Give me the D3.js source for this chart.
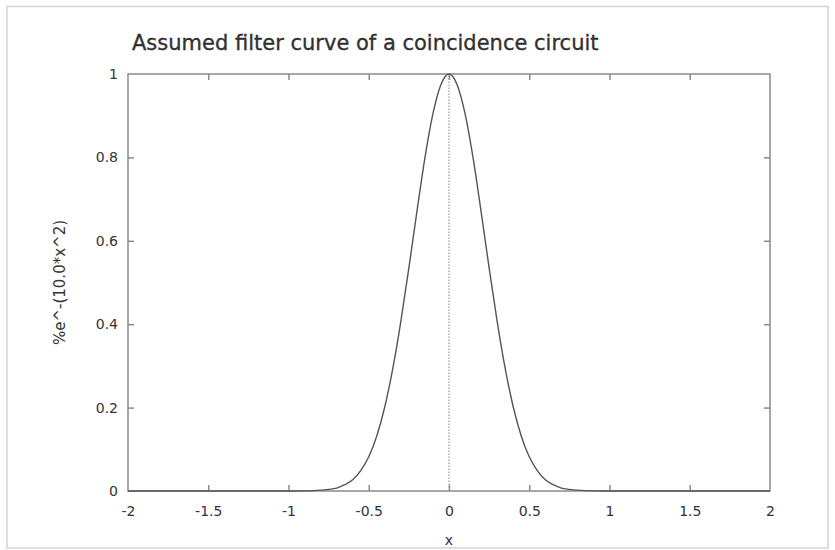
<!DOCTYPE html>
<html><head><meta charset="utf-8">
<script src="https://cdn.jsdelivr.net/npm/d3@7"></script>
<style>body{margin:0;background:#fff}svg{display:block}text{font-family:"DejaVu Sans",sans-serif;fill:#333}</style>
</head><body>
<svg id="c" width="835" height="550"></svg>
<script>
const title = "Assumed filter curve of a coincidence circuit";
const xLabel = "x";
const yLabel = "%e^-(10.0*x^2)";
const xTicks = [-2, -1.5, -1, -0.5, 0, 0.5, 1, 1.5, 2];
const yTicks = [0, 0.2, 0.4, 0.6, 0.8, 1];
const xs = [-2, -1.5, -1.0, -0.9, -0.8, -0.75, -0.7, -0.65, -0.6, -0.55, -0.5, -0.45, -0.4, -0.35, -0.3, -0.25, -0.2, -0.15, -0.1, -0.05, 0,
            0.05, 0.1, 0.15, 0.2, 0.25, 0.3, 0.35, 0.4, 0.45, 0.5, 0.55, 0.6, 0.65, 0.7, 0.75, 0.8, 0.9, 1.0, 1.5, 2];
const ys = [0, 0, 0, 0.0003, 0.002, 0.004, 0.007, 0.015, 0.027, 0.049, 0.082, 0.132, 0.202, 0.294, 0.407, 0.535, 0.670, 0.799, 0.905, 0.975, 1,
            0.975, 0.905, 0.799, 0.670, 0.535, 0.407, 0.294, 0.202, 0.132, 0.082, 0.049, 0.027, 0.015, 0.007, 0.004, 0.002, 0.0003, 0, 0, 0];

const svg = d3.select("#c");
const L = 128, R = 770, T = 74, B = 491;
const x = d3.scaleLinear().domain([-2, 2]).range([L, R]);
const y = d3.scaleLinear().domain([0, 1]).range([B, T]);

svg.append("rect").attr("x", 7).attr("y", 6.5).attr("width", 821).attr("height", 541.5)
  .attr("fill", "none").attr("stroke", "#d4d4d4").attr("stroke-width", 1.5);

const axCol = "#8a8a8a";
const tl = 6;
const gx = svg.append("g").attr("transform", `translate(0,${B})`)
  .call(d3.axisBottom(x).tickValues(xTicks).tickFormat(d => d).tickSize(-tl).tickPadding(15));
const gxt = svg.append("g").attr("transform", `translate(0,${T})`)
  .call(d3.axisTop(x).tickValues(xTicks.slice(1, -1)).tickFormat("").tickSize(-tl));
const gy = svg.append("g").attr("transform", `translate(${L},0)`)
  .call(d3.axisLeft(y).tickValues(yTicks).tickFormat(d => d).tickSize(-tl).tickPadding(10));
const gyr = svg.append("g").attr("transform", `translate(${R},0)`)
  .call(d3.axisRight(y).tickValues(yTicks.slice(1, -1)).tickFormat("").tickSize(-tl));
[gx, gxt, gy, gyr].forEach(g => {
  g.select(".domain").remove();
  g.selectAll("line").attr("stroke", axCol).attr("stroke-width", 1.5);
  g.selectAll("text").attr("font-size", 14).attr("fill", "#333").attr("font-family", "DejaVu Sans");
});
gx.selectAll("line").filter(d => d === -2 || d === 2).remove();
gy.selectAll("line").filter(d => d === 0 || d === 1).remove();

svg.append("rect").attr("x", L).attr("y", T).attr("width", R - L).attr("height", B - T)
  .attr("fill", "none").attr("stroke", axCol).attr("stroke-width", 1.5);

svg.append("line").attr("x1", x(0)).attr("x2", x(0)).attr("y1", B).attr("y2", T)
  .attr("stroke", "#999").attr("stroke-width", 1.2).attr("stroke-dasharray", "1.5,1.5");

const data = xs.map((v, i) => [v, ys[i]]);
svg.append("path").datum(data)
  .attr("d", d3.line().x(d => x(d[0])).y(d => y(d[1])).curve(d3.curveMonotoneX))
  .attr("fill", "none").attr("stroke", "#555").attr("stroke-width", 1.4);

svg.append("text").attr("x", 132).attr("y", 50).attr("font-size", 21)
  .attr("fill", "#222").attr("stroke", "#222").attr("stroke-width", 0.3).text(title);
svg.append("text").attr("x", x(0)).attr("y", 545).attr("text-anchor", "middle").attr("font-size", 14).text(xLabel);
svg.append("text").attr("transform", `translate(65,${(T + B) / 2}) rotate(-90)`).attr("text-anchor", "middle")
  .attr("font-size", 15).text(yLabel);
</script>
</body></html>
